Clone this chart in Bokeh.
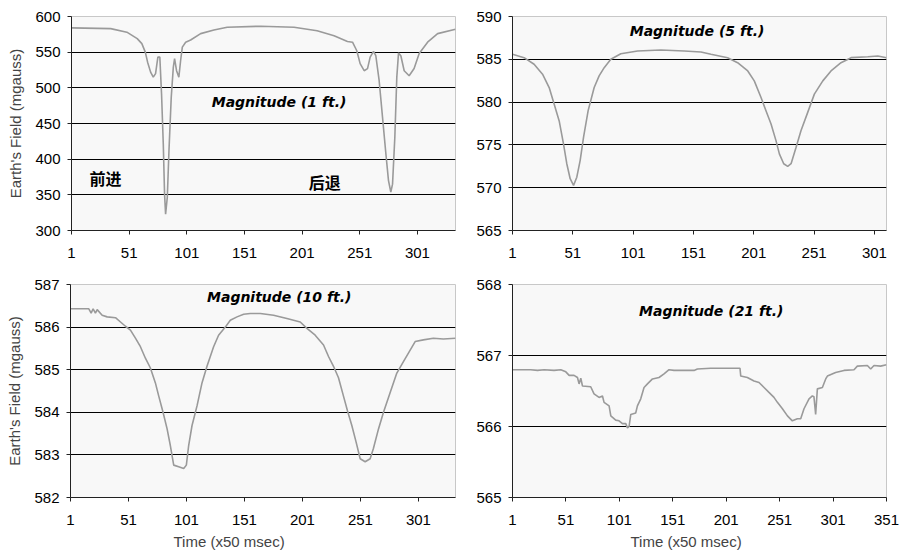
from bokeh.plotting import figure
from bokeh.layouts import column, row
from bokeh.models import Range1d, FixedTicker, Label, Title
from bokeh.embed import file_html
from bokeh.resources import INLINE

# ---------------- data ----------------
x_ticks_a = [1, 51, 101, 151, 201, 251, 301]
x_ticks_b = [1, 51, 101, 151, 201, 251, 301, 351]

t1 = [1, 35, 49, 58, 62, 65, 67, 69.6, 71.9, 73.9, 75.9, 77.6, 79.1, 80.6, 81.7, 82.6, 84.1, 85.5,
      87.5, 89.3, 90.4, 92.1, 94.1, 95.6, 97.1, 100, 104.3, 113, 124.5, 136, 165, 194, 214, 228.7,
      240.3, 244.7, 248.4, 251.3, 254.8, 257.7, 260, 262.9, 264.9, 267.8, 270.7, 273.6, 275.9,
      277.9, 279.4, 281.4, 283.1, 284.6, 286.6, 289.5, 293.8, 298.1, 302.5, 309.8, 318.5, 334]
v1 = [584, 583, 578, 569, 562, 550, 536, 522, 515, 520, 543, 543, 491, 421, 351, 323, 347, 411,
      487, 529, 541, 524, 515, 538, 557, 564, 567, 576, 581, 585, 586.4, 585, 580, 573,
      565, 564, 552, 534, 524, 527, 543, 551, 545, 510, 459, 408, 370,
      354, 365, 431, 515, 549, 545, 524, 517, 527, 548, 564, 576, 582]

t2 = [1, 10.6, 18.9, 25.9, 31.4, 35.5, 39.7, 43.3, 46, 48.8, 51.6, 54.3, 57.1, 59.9, 63.7, 68.7,
      72.8, 77, 82.5, 90.8, 104.7, 124, 143.3, 157.2, 165.5, 179.3, 187.6, 196, 201.4, 207, 211.1,
      215.3, 219.4, 222.2, 225.8, 229.1, 231.9, 236, 240.1, 245.7, 251.2, 258.2, 265, 273.3,
      281.6, 295.5, 303.8, 311]
v2 = [585.58, 585.19, 584.42, 583.26, 581.7, 579.77, 577.8, 575.1, 572.8, 571.05, 570.27, 571.23,
      573.2, 575.9, 579.0, 581.7, 583.06, 584.02, 585.0, 585.65, 585.97, 586.08, 585.97, 585.85,
      585.58, 585.19, 584.6, 583.64, 582.48, 580.53, 579.0, 577.44, 575.5, 573.95, 572.8, 572.5,
      572.8, 574.7, 576.66, 578.8, 580.93, 582.48, 583.64, 584.6, 585.19, 585.3, 585.38, 585.19]

t3 = [1, 16.8, 18.8, 20.5, 22.5, 24, 28.3, 32.6, 39.8, 44.1, 48.4, 52.7, 57, 61.3, 65.6, 69.9,
      74.2, 77.1, 80.8, 84.3, 87.1, 90, 94.3, 98.6, 100.9, 102.9, 105.8, 110.1, 114.4, 118.7,
      124.4, 128.7, 134.5, 138.8, 144.6, 150.3, 156, 164.7, 176.1, 187.6, 199.1, 204.9, 212,
      219.2, 223.5, 227.8, 232.1, 236.4, 239.9, 243.6, 247.3, 250.8, 255.1, 259.4, 262.2, 266.6,
      270.9, 276.6, 282.4, 288.1, 292.4, 298.2, 305.3, 313.9, 322.5, 333]
v3 = [586.43, 586.43, 586.33, 586.43, 586.33, 586.41, 586.28, 586.24, 586.22, 586.12, 586.02,
      585.93, 585.74, 585.54, 585.27, 585.04, 584.69, 584.38, 584.0, 583.61, 583.22, 582.76,
      582.72, 582.68, 582.76, 583.22, 583.69, 584.15, 584.69, 585.08, 585.54, 585.81, 586.0,
      586.16, 586.24, 586.3, 586.32, 586.32, 586.28, 586.2, 586.12, 585.97, 585.81, 585.58,
      585.31, 585.08, 584.81, 584.38, 584.03, 583.69, 583.3, 582.91, 582.84, 582.91, 583.15,
      583.61, 584.0, 584.46, 584.92, 585.19, 585.39, 585.66, 585.7, 585.74, 585.72, 585.74]

t4 = [1, 18, 24.4, 30.6, 39.9, 46.2, 50.9, 54, 58.6, 61.8, 63.3, 64.9, 66.5, 74.2, 77.3, 82, 85.2,
      86.7, 91.4, 93, 97.6, 100.7, 103.9, 107, 108.6, 110.1, 111.7, 116.3, 117.9, 121, 124.1,
      127.3, 132, 138.1, 142.8, 147.5, 152.2, 170.9, 174, 186.5, 213.9, 214.6, 220.8, 227, 231.7,
      236.4, 241, 245.7, 248.9, 253.6, 258.3, 262.9, 267.6, 270.7, 273.8, 278.5, 281.6, 283.1,
      284.7, 286.3, 291, 294.1, 295.7, 303.4, 311.2, 320.6, 323.7, 333.1, 336.2, 339.3, 345.5, 351]
v4 = [566.80, 566.80, 566.79, 566.80, 566.79, 566.80, 566.77, 566.72, 566.72, 566.69, 566.60,
      566.68, 566.57, 566.56, 566.46, 566.41, 566.43, 566.34, 566.29, 566.15, 566.09, 566.08,
      566.04, 566.04, 565.98, 566.00, 566.17, 566.19, 566.29, 566.39, 566.55, 566.60, 566.67,
      566.69, 566.74, 566.80, 566.79, 566.79, 566.81, 566.82, 566.82, 566.71, 566.69, 566.64,
      566.62, 566.55, 566.48, 566.41, 566.34, 566.25, 566.15, 566.08, 566.11, 566.11, 566.25,
      566.39, 566.43, 566.42, 566.17, 566.53, 566.55, 566.67, 566.71, 566.76, 566.79, 566.80,
      566.85, 566.86, 566.81, 566.86, 566.85, 566.87]

titles = ["Magnitude (1 ft.)", "Magnitude (5 ft.)", "Magnitude (10 ft.)", "Magnitude (21 ft.)"]
y_label = "Earth's Field (mgauss)"
x_label = "Time (x50 msec)"

FONT = "Liberation Sans"
TFONT = "DejaVu Sans"
LINE = "#9a9a9a"
BG = "#f8f8f8"


def make(t, v, xr, yr, yticks, xticks, width, height, bl, br, bt, bb, ylab, xlab_offset):
    p = figure(width=width, height=height, output_backend="svg", toolbar_location=None,
               x_range=Range1d(*xr), y_range=Range1d(*yr),
               min_border_left=bl, min_border_right=br, min_border_top=bt, min_border_bottom=bb)
    p.background_fill_color = BG
    p.border_fill_color = "white"
    p.outline_line_color = "#c8c8c8"
    p.outline_line_width = 1
    p.line(t, v, line_color=LINE, line_width=1.6)
    p.xaxis.ticker = FixedTicker(ticks=xticks)
    p.yaxis.ticker = FixedTicker(ticks=yticks)
    p.xgrid.visible = False
    p.ygrid.ticker = FixedTicker(ticks=yticks[1:-1])
    p.ygrid.grid_line_color = "black"
    p.ygrid.grid_line_width = 1
    for ax in (p.xaxis[0], p.yaxis[0]):
        ax.axis_line_color = "#222222"
        ax.major_tick_line_color = "#222222"
        ax.minor_tick_line_color = None
        ax.major_tick_in = 0
        ax.major_tick_out = 4
        ax.major_label_text_font = FONT
        ax.major_label_text_font_size = "15px"
        ax.major_label_text_color = "black"
    p.xaxis.major_label_standoff = 13
    p.yaxis.major_label_standoff = 7
    if ylab:
        p.yaxis.axis_label = y_label
        p.yaxis.axis_label_text_font = FONT
        p.yaxis.axis_label_text_font_size = "15px"
        p.yaxis.axis_label_text_font_style = "normal"
        p.yaxis.axis_label_standoff = 8
    if xlab_offset is not None:
        p.add_layout(Title(text=x_label, align="left", offset=xlab_offset, text_font=FONT,
                           text_font_size="15px", text_font_style="normal", standoff=6), "below")
    return p


p1 = make(t1, v1, (1, 334), (300, 600), list(range(300, 601, 50)), x_ticks_a,
          460, 270, 71, 5, 16, 40, True, None)
p2 = make(t2, v2, (1, 311), (565, 590), list(range(565, 591, 5)), x_ticks_a,
          440, 270, 52, 14, 16, 40, False, None)
p3 = make(t3, v3, (1, 333), (582, 587), list(range(582, 588)), x_ticks_a,
          460, 290, 70, 5, 14, 63, True, 103)
p4 = make(t4, v4, (1, 351), (565, 568), list(range(565, 569)), x_ticks_b,
          440, 290, 52, 14, 14, 63, False, 118)


def title_label(p, x, y, text):
    p.add_layout(Label(x=x, y=y, text=text, text_align="center", text_baseline="middle",
                       text_font=TFONT, text_font_size="14px", text_font_style="bold italic",
                       text_color="black"))


title_label(p1, 181, 480, titles[0])
title_label(p2, 154, 588.27, titles[1])
title_label(p3, 181, 586.70, titles[2])
title_label(p4, 187, 567.63, titles[3])

for x, y, txt in [(16.6, 373, "前进"), (206.7, 368, "后退")]:
    p1.add_layout(Label(x=x, y=y, text=txt, text_align="left", text_baseline="middle",
                        text_font="Noto Sans CJK SC", text_font_size="16px",
                        text_font_style="bold", text_color="black"))

layout = column(row(p1, p2, spacing=0), row(p3, p4, spacing=0), spacing=0)

with open("out.html", "w") as f:
    f.write(file_html(layout, INLINE))
